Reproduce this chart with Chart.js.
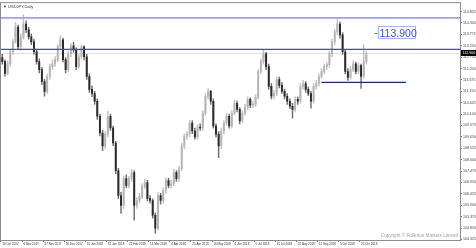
<!DOCTYPE html>
<html>
<head>
<meta charset="utf-8">
<script src="https://cdn.jsdelivr.net/npm/chart.js@4.4.1/dist/chart.umd.min.js"></script>
<style>
  html, body { margin: 0; padding: 0; background: #fff; }
  #wrap { width: 476px; height: 248px; }
</style>
</head>
<body>
<div id="wrap"><canvas id="fx" width="476" height="248"></canvas></div>
<script>
// USDJPY daily, Oct 2017 - Oct 2018
const opens = [
  112.70,112.52,111.97,112.42,112.97,113.43,114.11,113.20,113.66,114.25,
  113.98,113.66,113.43,112.97,112.52,112.15,111.60,111.15,111.83,112.29,
  112.42,112.61,113.20,113.52,112.61,112.15,112.88,113.25,113.06,112.29,
  112.74,113.20,112.74,111.83,111.24,111.05,110.69,110.00,109.23,108.63,
  109.18,110.00,109.46,108.77,107.49,106.35,105.89,107.13,106.81,107.13,
  107.40,105.89,106.12,106.31,106.76,106.95,106.22,106.12,105.44,104.84,
  106.35,106.12,106.58,107.04,106.81,106.90,107.40,107.13,107.58,108.63,
  109.09,109.18,109.69,109.32,109.05,109.50,109.46,110.14,110.92,111.15,
  110.69,109.55,109.18,108.63,109.32,109.69,110.00,109.55,110.14,110.60,
  110.32,109.78,110.14,110.42,110.78,110.51,110.55,110.87,112.06,112.52,
  112.88,112.29,111.38,110.92,111.05,111.69,111.42,111.15,110.92,110.69,
  110.46,110.32,110.78,110.69,111.38,111.51,111.24,111.05,110.69,111.38,
  111.51,111.83,112.06,112.29,112.38,112.88,113.43,113.89,114.25,113.75,
  112.97,112.06,111.79,112.15,112.42,112.06,112.33,111.83,112.52
];
const highs = [
  112.85,112.60,112.55,113.05,113.55,114.34,114.20,113.80,114.68,114.40,
  114.10,113.80,113.55,113.10,112.65,112.25,111.70,111.95,112.40,112.60,
  112.75,113.30,113.70,113.60,112.70,113.00,113.35,113.40,113.15,112.85,
  113.29,113.25,112.85,111.95,111.40,111.15,110.80,110.10,109.35,109.30,
  110.23,110.10,109.55,108.85,107.60,106.50,107.25,107.30,107.25,107.55,
  107.50,106.25,106.45,106.90,107.10,107.05,106.35,106.20,105.55,106.50,
  106.45,106.70,107.15,107.15,107.05,107.55,107.50,107.70,108.75,109.20,
  109.30,109.80,109.80,109.45,109.60,109.65,110.25,111.05,111.28,111.20,
  110.80,109.65,109.30,109.45,109.80,110.15,110.10,110.25,110.75,110.70,
  110.40,110.25,110.55,110.90,110.85,110.70,111.00,112.15,112.65,113.06,
  112.95,112.40,111.50,111.20,111.80,111.80,111.55,111.25,111.05,110.80,
  110.60,110.90,110.90,111.50,111.65,111.60,111.35,111.15,111.50,111.65,
  111.95,112.20,112.40,112.50,113.00,113.55,114.00,114.55,114.35,113.85,
  113.05,112.20,112.30,112.55,112.50,112.45,112.40,113.29,113.00
];
const lows = [
  112.40,111.85,111.90,112.30,112.85,113.35,113.10,113.05,113.55,113.85,
  113.55,113.30,112.85,112.40,112.00,111.45,110.92,111.05,111.70,112.15,
  112.30,112.50,113.05,112.50,112.00,112.05,112.75,112.95,112.15,112.20,
  112.65,112.60,111.70,111.10,110.90,110.55,109.85,109.10,108.41,108.50,
  109.05,109.35,108.65,107.35,106.20,105.53,105.75,106.70,106.70,107.00,
  105.21,105.75,106.00,106.20,106.65,106.10,106.00,105.30,104.62,104.75,
  105.95,106.00,106.45,106.70,106.70,106.80,107.00,107.00,107.50,108.50,
  108.95,109.05,109.20,108.95,108.95,109.35,109.35,110.05,110.80,110.55,
  109.45,109.05,108.09,108.50,109.20,109.60,109.45,109.45,110.05,110.20,
  109.65,109.70,110.05,110.30,110.40,110.40,110.45,110.80,111.95,112.40,
  112.15,111.25,110.80,110.80,110.95,111.30,111.05,110.80,110.55,110.35,
  109.91,110.20,110.55,110.60,111.25,111.10,110.95,110.37,110.60,111.25,
  111.40,111.75,111.95,112.15,112.25,112.75,113.30,113.75,113.60,112.85,
  111.95,111.65,111.70,112.05,111.95,111.95,111.28,111.75,112.40
];
const closes = [
  112.52,111.97,112.42,112.97,113.43,114.11,113.20,113.66,114.25,113.98,
  113.66,113.43,112.97,112.52,112.15,111.60,111.15,111.83,112.29,112.42,
  112.61,113.20,113.52,112.61,112.15,112.88,113.25,113.06,112.29,112.74,
  113.20,112.74,111.83,111.24,111.05,110.69,110.00,109.23,108.63,109.18,
  110.00,109.46,108.77,107.49,106.35,105.89,107.13,106.81,107.13,107.40,
  105.89,106.12,106.31,106.76,106.95,106.22,106.12,105.44,104.84,106.35,
  106.12,106.58,107.04,106.81,106.90,107.40,107.13,107.58,108.63,109.09,
  109.18,109.69,109.32,109.05,109.50,109.46,110.14,110.92,111.15,110.69,
  109.55,109.18,108.63,109.32,109.69,110.00,109.55,110.14,110.60,110.32,
  109.78,110.14,110.42,110.78,110.51,110.55,110.87,112.06,112.52,112.88,
  112.29,111.38,110.92,111.05,111.69,111.42,111.15,110.92,110.69,110.46,
  110.32,110.78,110.69,111.38,111.51,111.24,111.05,110.69,111.38,111.51,
  111.83,112.06,112.29,112.38,112.88,113.43,113.89,114.25,113.75,112.97,
  112.06,111.79,112.15,112.42,112.06,112.33,111.83,112.52,112.90
];

const dateLabels = [
  '16 Oct 2017','6 Nov 2017','27 Nov 2017','18 Dec 2017','10 Jan 2018','31 Jan 2018',
  '21 Feb 2018','14 Mar 2018','4 Apr 2018','25 Apr 2018','16 May 2018','6 Jun 2018',
  '5 Jul 2018','31 Jul 2018','22 Aug 2018','12 Sep 2018','5 Oct 2018','25 Oct 2018'
];
const priceTicks = [
  114.825,114.300,113.775,113.250,112.725,112.200,111.675,111.150,110.625,110.100,
  109.575,109.050,108.525,108.000,107.475,106.950,106.425,105.900,105.375,104.850,104.325
];

// drawn objects
const resistTop = 114.53;
const resistMid = 113.08;
const supportLevel = 111.56;
const supportFrom = 121, supportTo = 153;
const noteText = '113.900';
const noteLevel = 113.82;
const noteSlot = 143;

const SLOTS = 174;      // bars + empty right shift
const LABEL_EVERY = 8;
const slots = Array.from({ length: SLOTS }, (_, i) => i);

const isBull = i => closes[i] >= opens[i];
const bodyColor = c => isBull(c.dataIndex) ? '#b4b4b4' : '#2a2a2a';
const wickColor = c => isBull(c.dataIndex) ? '#c2c2c2' : '#707070';

const supportLine = slots.map(i => (i === supportFrom || i === supportTo) ? supportLevel : null);

const overlay = {
  id: 'overlay',
  beforeDatasetsDraw(chart) {
    const { ctx, chartArea: a, scales: { y } } = chart;
    ctx.save();
    // bid line
    const by = Math.round(y.getPixelForValue(closes[closes.length - 1])) + 0.5;
    ctx.strokeStyle = '#e0e0e0';
    ctx.lineWidth = 1;
    ctx.beginPath(); ctx.moveTo(a.left, by); ctx.lineTo(a.right, by); ctx.stroke();
    ctx.restore();
  },
  afterDatasetsDraw(chart) {
    const { ctx, chartArea: a, scales: { x, y } } = chart;
    ctx.save();
    // horizontal levels
    const ty = y.getPixelForValue(resistTop);
    ctx.strokeStyle = '#9aa3f1';
    ctx.lineWidth = 1.6;
    ctx.beginPath(); ctx.moveTo(a.left, ty); ctx.lineTo(a.right, ty); ctx.stroke();
    const my = y.getPixelForValue(resistMid);
    ctx.strokeStyle = '#2f4cf0';
    ctx.lineWidth = 1.4;
    ctx.beginPath(); ctx.moveTo(a.left, my); ctx.lineTo(a.right, my); ctx.stroke();

    // price note
    const nx = x.getPixelForValue(noteSlot);
    const ny = y.getPixelForValue(noteLevel);
    ctx.strokeStyle = '#aab2f3';
    ctx.lineWidth = 1;
    ctx.strokeRect(Math.round(nx) - 1.5, Math.round(ny) - 6.5, 37, 12);
    ctx.strokeStyle = '#5a6ce8';
    ctx.beginPath(); ctx.moveTo(nx - 5, Math.round(ny) + 0.5); ctx.lineTo(nx - 2, Math.round(ny) + 0.5); ctx.stroke();
    ctx.fillStyle = '#3a50e6';
    ctx.font = '10.5px "Liberation Sans", Arial, sans-serif';
    ctx.textBaseline = 'middle';
    ctx.textAlign = 'left';
    ctx.fillText(noteText, nx, ny + 0.5);

    // frame
    ctx.strokeStyle = '#8c8c8c';
    ctx.lineWidth = 1;
    ctx.strokeRect(a.left - 0.5, a.top - 0.5, a.right - a.left + 1, a.bottom - a.top + 1);

    // symbol caption
    ctx.fillStyle = '#333';
    ctx.font = '4px "Liberation Sans", Arial, sans-serif';
    ctx.textBaseline = 'top';
    ctx.fillText('\u25BC USDJPY,Daily', a.left + 2, a.top + 2);

    // copyright
    ctx.fillStyle = '#a0a0a0';
    ctx.font = '4.6px "Liberation Sans", Arial, sans-serif';
    ctx.textAlign = 'right';
    ctx.textBaseline = 'alphabetic';
    ctx.fillText('Copyright \u00A9 Fullerton Markets Limited', a.right - 2, a.bottom - 3);

    // last price box on the axis
    const last = closes[closes.length - 1];
    const ly = Math.round(y.getPixelForValue(last));
    ctx.fillStyle = '#000';
    ctx.fillRect(a.right + 1, ly - 3, 15, 6);
    ctx.fillStyle = '#fff';
    ctx.font = '3.6px "Liberation Sans", Arial, sans-serif';
    ctx.textAlign = 'left';
    ctx.textBaseline = 'middle';
    ctx.fillText(last.toFixed(3), a.right + 2.5, ly + 0.3);
    ctx.restore();
  }
};

new Chart(document.getElementById('fx'), {
  type: 'bar',
  data: {
    labels: slots,
    datasets: [
      {
        label: 'wick',
        data: lows.map((l, i) => [l, highs[i]]),
        backgroundColor: wickColor,
        barThickness: 0.8,
        grouped: false,
        order: 2
      },
      {
        label: 'body',
        data: opens.map((o, i) => [o, closes[i]]),
        backgroundColor: bodyColor,
        barThickness: 1.3,
        minBarLength: 1,
        grouped: false,
        order: 1
      },
      {
        type: 'line',
        label: 'support',
        data: supportLine,
        spanGaps: true,
        borderColor: '#1f2b7a',
        borderWidth: 1.1,
        pointRadius: 0,
        order: 0
      }
    ]
  },
  options: {
    responsive: false,
    devicePixelRatio: 1,
    animation: false,
    events: [],
    layout: { padding: { left: 1, top: 1, right: 0, bottom: 0 } },
    plugins: {
      legend: { display: false },
      tooltip: { enabled: false }
    },
    scales: {
      x: {
        offset: true,
        grid: {
          drawOnChartArea: false,
          tickLength: 2,
          color: c => (c.index % LABEL_EVERY === 0 && c.index / LABEL_EVERY < dateLabels.length) ? '#777' : 'rgba(0,0,0,0)'
        },
        border: { display: true, color: '#8c8c8c' },
        ticks: {
          autoSkip: false,
          maxRotation: 0,
          minRotation: 0,
          align: 'start',
          padding: 0,
          color: '#333',
          font: { size: 3, family: '"Liberation Sans", Arial, sans-serif' },
          callback: (v, i) => (i % LABEL_EVERY === 0 ? (dateLabels[i / LABEL_EVERY] || '') : '')
        },
        afterFit: s => { s.height = 8; }
      },
      y: {
        position: 'right',
        min: 104.30,
        max: 115.21,
        grid: { drawOnChartArea: false, tickLength: 2, color: '#777' },
        border: { display: true, color: '#8c8c8c' },
        afterBuildTicks: s => { s.ticks = priceTicks.map(v => ({ value: v })); },
        ticks: {
          padding: 1,
          color: '#444',
          font: { size: 3.6, family: '"Liberation Sans", Arial, sans-serif' },
          callback: v => Number(v).toFixed(3)
        },
        afterFit: s => { s.width = 16; }
      }
    }
  },
  plugins: [overlay]
});
</script>
</body>
</html>
